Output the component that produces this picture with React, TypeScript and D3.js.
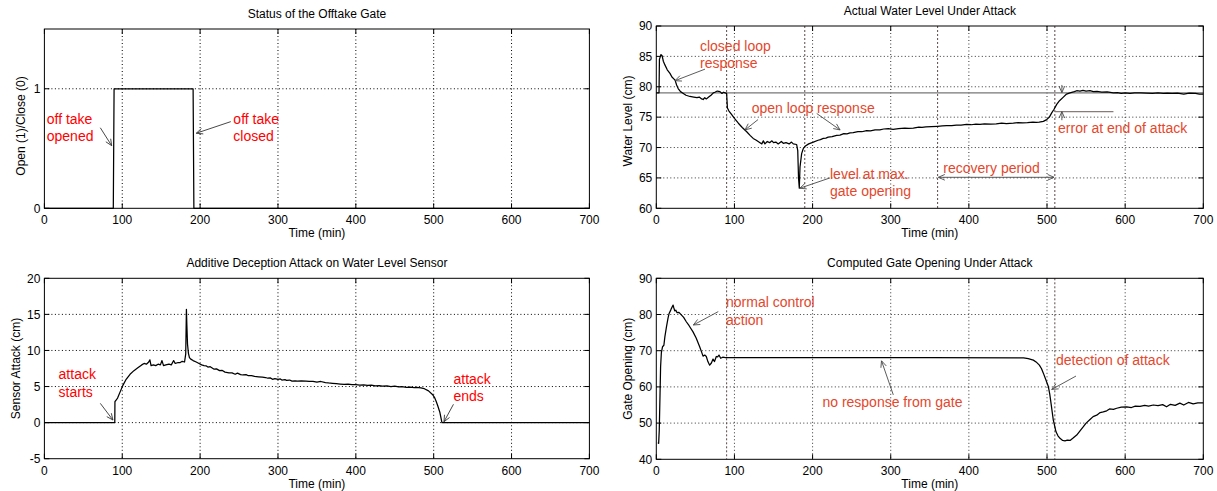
import React from 'react';
import * as d3 from 'd3';

type Pt = [number, number];

// ---------- data ----------
const timeTicks = [0, 100, 200, 300, 400, 500, 600, 700];

const gateStatus: Pt[] = [[0, 0], [88.5, 0], [89.5, 1], [191, 1], [192, 0], [700, 0]];
const gateStatusTicks = [0, 1];

const waterLevel: Pt[] = [
  [0, 79], [3.5, 79], [4, 84.5], [6, 85.3], [7.5, 85.1], [9, 84.2], [11, 83.6], [14, 82.8], [17.5, 82.2],
  [20, 81.6], [24, 81.1], [26, 80.3], [28, 79.7], [31, 79.2], [34.6, 78.9], [38, 78.6], [43, 78.4], [48, 78.3],
  [52, 78.2], [55, 78.3], [58, 78.0], [60, 77.9], [62, 78.2], [64, 78.0], [67, 78.3], [70, 78.6], [73, 79.0],
  [75, 79.1], [78, 79.3], [81.5, 79.2], [84, 78.9], [86, 79.1], [88, 79.0], [90, 78.9], [91, 76.5], [93, 76.0],
  [96.5, 75.4], [100, 74.8], [105, 74.0], [110, 73.3], [115.7, 72.6], [120, 72.0], [124, 71.5], [128, 71.2],
  [132.7, 70.8], [135, 70.6], [137, 71.1], [139, 70.6], [142, 71.0], [145, 70.8], [148, 71.1], [150, 70.8],
  [153, 70.9], [156, 70.6], [160, 71.0], [162.5, 70.7], [166, 70.8], [170, 70.6], [173, 70.9], [175.3, 70.6],
  [179.6, 70.5], [181, 69.5], [182, 65], [183, 63.3], [183.9, 66.8], [186, 69.0], [188, 69.8], [190.3, 70.2],
  [195, 70.6], [201, 70.9], [207, 71.2], [210, 71.3], [213.7, 71.5], [217, 71.55], [220, 71.7], [225, 71.8],
  [230.8, 72.0], [235, 72.05], [240, 72.3], [244, 72.25], [247.9, 72.4], [252, 72.45], [258, 72.6], [263, 72.6],
  [269.2, 72.8], [274, 72.75], [280, 72.9], [286, 72.9], [291, 73.05], [296.9, 73.1], [303, 73.0], [310, 73.1],
  [318, 73.2], [323, 73.15], [328.9, 73.2], [336, 73.35], [340, 73.3], [345, 73.4], [352, 73.45], [360, 73.5],
  [366, 73.55], [371.6, 73.6], [378, 73.6], [384, 73.7], [390, 73.7], [397, 73.8], [403, 73.75], [409, 73.85],
  [414.3, 73.8], [420, 73.9], [428, 73.85], [435, 73.9], [442, 74.0], [448, 73.95], [456.9, 74.0], [463, 74.1],
  [469, 74.05], [475, 74.1], [482, 74.2], [486, 74.15], [490, 74.2],
  [495.3, 74.3], [499.6, 74.6], [503, 75.0], [506, 75.7], [509, 76.3], [512.4, 77.1], [516, 77.7], [520.9, 78.3],
  [525, 78.8], [529.4, 79.0], [535, 79.2], [538, 79.35], [542.2, 79.3], [546, 79.4], [550, 79.3], [555, 79.35],
  [559.3, 79.2], [564, 79.25], [570, 79.1], [577, 79.15], [584.9, 79.0], [590, 79.05], [595, 78.9], [600, 79.0],
  [606.2, 78.9], [612, 79.0], [620, 79.0], [627, 78.95], [635, 78.9], [642, 79.0], [648.8, 78.9], [654, 78.95],
  [660, 78.9], [667, 78.95], [675, 78.8], [682, 78.95], [690, 78.9], [695, 78.8], [700, 78.8],
];
const waterLevelTicks = [60, 65, 70, 75, 80, 85, 90];
const setpoint = 79;
const errorLevel = 75.9;

const sensorAttack: Pt[] = [
  [0, 0], [90.4, 0], [90.6, 2.9], [92, 3.1], [94, 3.4], [97.8, 4.4], [101, 5.2], [105, 6.0], [110, 6.7], [115, 7.2],
  [120, 7.6], [125, 8.0], [128, 8.2], [131, 8.1], [134, 8.4], [135.5, 8.7], [137, 7.9], [140, 8.0], [143, 7.9],
  [146, 8.1], [149, 8.0], [151, 8.6], [153, 7.9], [156, 8.0], [160, 8.1], [163, 8.0], [166, 8.6], [168, 8.2],
  [171, 8.3], [174, 8.3], [177, 8.5], [180, 8.4], [181.5, 9.5], [182.4, 15.7], [183, 13.5], [183.8, 10.9],
  [185, 9.6], [186.3, 9.0], [188, 8.8], [191, 8.6], [195, 8.4], [198.6, 8.2], [202, 8.0], [205, 7.9],
  [208, 7.85], [210, 7.7], [213, 7.75], [218, 7.4], [221, 7.45], [225, 7.2], [228, 7.25], [232, 7.0], [237, 6.9],
  [241, 6.9], [245, 6.7], [248, 6.85], [252, 6.65], [255, 6.6], [259, 6.65], [262, 6.5], [266, 6.5], [270, 6.4],
  [275, 6.35], [280, 6.3], [284, 6.25], [287, 6.15], [290, 6.2], [293, 6.0], [296, 6.1], [300, 6.0], [303, 6.05],
  [305, 5.9], [309, 5.95], [311, 5.85], [315, 5.9], [318, 5.75], [322, 5.8], [325, 5.75], [330, 5.8], [336, 5.75],
  [340, 5.7], [345, 5.72], [350, 5.6], [355, 5.7], [361, 5.55], [365, 5.5], [370, 5.45], [375, 5.4], [380, 5.35],
  [385, 5.3], [390, 5.32], [395, 5.25], [400, 5.25], [405, 5.2], [410, 5.22], [415, 5.15], [420, 5.2], [425, 5.1],
  [430, 5.12], [434, 5.05], [440, 5.1], [445, 5.0], [450, 5.05], [455, 4.95], [459, 5.0], [465, 4.9], [470, 4.92],
  [475, 4.85], [478, 4.9], [483.6, 4.8], [488, 4.7], [493.4, 4.4],
  [498.4, 3.9], [501, 3.5], [503, 3.0], [505, 2.4], [508, 1.4], [510.6, 0], [700, 0],
];
const sensorAttackTicks = [-5, 0, 5, 10, 15, 20];

const gateOpening: Pt[] = [
  [2, 44.6], [3, 44.4], [3.8, 48], [4.7, 57.3], [5.5, 65.6], [6.5, 69.5], [8, 71.1], [9.7, 71.5], [11, 73.9],
  [13, 76.6], [15, 79.0], [16.4, 80.3], [18, 81.0], [19.4, 81.7], [21.5, 82.6], [22.5, 81.8], [23.6, 81.0],
  [25, 81.2], [26.6, 80.5], [29, 80.6], [32, 79.9], [35, 79.2], [38.4, 78.0], [42, 76.9], [47, 75.2], [51, 73.5],
  [55.5, 71.1], [58, 69.6], [59.8, 68.5], [62, 68.8], [64, 68.4], [66, 67.0], [68.3, 66.0], [70.5, 66.6],
  [72.6, 67.7], [74.5, 67.0], [76.8, 68.4], [78.5, 68.3], [80.2, 68.8], [82.4, 67.9], [85, 68.2], [88.5, 68.1],
  [200, 68.1], [350, 68.1], [470, 68.0], [476, 67.8], [482.5, 67.4], [486, 66.9], [490.2, 66.0], [493, 65.0],
  [495.3, 63.8], [498.5, 62.0], [501.7, 60.1], [503.5, 58.0], [505.1, 55.5], [508, 50.9], [511.5, 47.6],
  [514, 46.5], [516.6, 45.8], [520, 45.2], [523, 45.1], [526, 45.3], [529.5, 45.2], [533, 45.8], [538, 46.7],
  [542, 47.8], [546.5, 49.0], [550, 50.0], [555, 51.0], [559, 51.8], [563.6, 52.2], [568, 52.9], [572, 53.1],
  [576.4, 53.4], [580, 53.9], [585, 53.8], [589.2, 54.1], [595, 54.4], [602, 54.5], [608, 54.3], [613, 54.7],
  [619, 54.6], [625, 54.9], [630, 54.7], [636, 55.0], [642, 54.8], [648, 55.1], [653, 54.5], [658, 55.2],
  [664, 54.9], [670, 55.5], [675, 55.0], [681, 55.7], [687, 55.3], [693, 55.6], [700, 55.6],
];
const gateOpeningTicks = [40, 50, 60, 70, 80, 90];

// event markers (min)
const levelEventLines = [90, 190, 360, 510];
const gateEventLines = [90, 510];

// annotations in data coordinates: text lines at (t, v); arrows from -> to
type Note = { t: number; v: number; lines: string[] };
type Arrow = { from: Pt; to: Pt; both?: boolean };

const statusNotes: Note[] = [
  { t: 3, v: 0.75, lines: ['off take', 'opened'] },
  { t: 242.7, v: 0.75, lines: ['off take', 'closed'] },
];
const statusArrows: Arrow[] = [
  { from: [71.8, 0.674], to: [86.4, 0.524] },
  { from: [239.4, 0.725], to: [195.1, 0.628] },
];

const levelNotes: Note[] = [
  { t: 55.9, v: 86.75, lines: ['closed loop', 'response'] },
  { t: 122.1, v: 76.5, lines: ['open loop response'] },
  { t: 222.3, v: 65.65, lines: ['level at max.', 'gate opening'] },
  { t: 367.3, v: 66.6, lines: ['recovery period'] },
  { t: 514.1, v: 73.2, lines: ['error at end of attack'] },
];
const levelArrows: Arrow[] = [
  { from: [62.3, 82.9], to: [23.9, 81.0] },
  { from: [130.2, 74.6], to: [113.5, 72.9] },
  { from: [205.3, 75.6], to: [235.2, 72.9] },
  { from: [222.3, 65.0], to: [183.6, 63.3] },
  { from: [361, 65.1], to: [509, 65.1], both: true },
  { from: [519, 74.5], to: [519, 75.9] },
  { from: [519, 80.3], to: [519, 79.05] },
];

const attackNotes: Note[] = [
  { t: 18.2, v: 6.7, lines: ['attack', 'starts'] },
  { t: 525.4, v: 6.1, lines: ['attack', 'ends'] },
];
const attackArrows: Arrow[] = [
  { from: [71.8, 2.67], to: [88, 0.36] },
  { from: [525.4, 2.54], to: [513.2, 0.12] },
];

const openingNotes: Note[] = [
  { t: 89.2, v: 83.4, lines: ['normal control', 'action'] },
  { t: 212.6, v: 55.9, lines: ['no response from gate'] },
  { t: 511.5, v: 67.4, lines: ['detection of attack'] },
];
const openingArrows: Arrow[] = [
  { from: [79.3, 80.8], to: [47.4, 77.1] },
  { from: [303.3, 57.8], to: [288.2, 67.2] },
  { from: [537.1, 63.0], to: [506, 59.3] },
];

// ---------- drawing ----------
const FONT = 'Liberation Sans, Arial, Helvetica, sans-serif';

type PanelCfg = {
  left: number; right: number; top: number; bottom: number;
  yDomain: [number, number]; yTicks: number[];
  title: string; ylabel: string; ylabelX: number; ylabelY?: number;
  series: Pt[];
  notes: Note[]; arrows: Arrow[];
  noteColor: string; arrowColor: string; gridColor: string;
  eventLines?: number[];
  hLine?: number;
  errLine?: { v: number; t0: number; t1: number };
};

function ArrowMark({ x1, y1, x2, y2, color, both }: any) {
  const head = (xa: number, ya: number, xb: number, yb: number, k: string) => {
    const ang = Math.atan2(yb - ya, xb - xa);
    const L = 7, a = 0.42;
    const p1 = [xb - L * Math.cos(ang - a), yb - L * Math.sin(ang - a)];
    const p2 = [xb - L * Math.cos(ang + a), yb - L * Math.sin(ang + a)];
    return (
      <path key={k} d={`M${p1[0]},${p1[1]}L${xb},${yb}L${p2[0]},${p2[1]}`} fill="none" stroke={color} strokeWidth={0.9} />
    );
  };
  return (
    <g>
      <line x1={x1} y1={y1} x2={x2} y2={y2} stroke={color} strokeWidth={0.9} />
      {head(x1, y1, x2, y2, 'h1')}
      {both ? head(x2, y2, x1, y1, 'h2') : null}
    </g>
  );
}

function Panel({ c }: { c: PanelCfg }) {
  const x = d3.scaleLinear().domain([0, 700]).range([c.left, c.right]);
  const y = d3.scaleLinear().domain(c.yDomain).range([c.bottom, c.top]);
  const line = d3.line<Pt>().x((d) => x(d[0])).y((d) => y(d[1]));
  const cx = (c.left + c.right) / 2;
  const cy = c.ylabelY ?? (c.top + c.bottom) / 2;
  const tick = 5;
  return (
    <g>
      <rect x={c.left} y={c.top} width={c.right - c.left} height={c.bottom - c.top} fill="#fff" />
      {/* grid */}
      {timeTicks.filter((t) => t > 0 && t < 700).map((t) => (
        <line key={'gx' + t} x1={x(t)} x2={x(t)} y1={c.top} y2={c.bottom} stroke={c.gridColor} strokeWidth={1} strokeDasharray="1,2.5" />
      ))}
      {c.yTicks.filter((v) => v > c.yDomain[0] && v < c.yDomain[1]).map((v) => (
        <line key={'gy' + v} x1={c.left} x2={c.right} y1={y(v)} y2={y(v)} stroke={c.gridColor} strokeWidth={1} strokeDasharray="1,2.5" />
      ))}
      {(c.eventLines || []).map((t) => (
        <line key={'ev' + t} x1={x(t)} x2={x(t)} y1={c.top} y2={c.bottom} stroke="#5a4a48" strokeWidth={1} strokeDasharray="2,2" />
      ))}
      {c.hLine !== undefined && (
        <line x1={c.left} x2={c.right} y1={y(c.hLine)} y2={y(c.hLine)} stroke="#777" strokeWidth={1.3} />
      )}
      {c.errLine && (
        <line x1={x(c.errLine.t0)} x2={x(c.errLine.t1)} y1={y(c.errLine.v)} y2={y(c.errLine.v)} stroke="#8a7a78" strokeWidth={1.2} />
      )}
      {/* ticks */}
      {timeTicks.map((t) => (
        <g key={'tx' + t}>
          <line x1={x(t)} x2={x(t)} y1={c.bottom} y2={c.bottom - tick} stroke="#000" />
          <line x1={x(t)} x2={x(t)} y1={c.top} y2={c.top + tick} stroke="#000" />
          <text x={x(t)} y={c.bottom + 16} textAnchor="middle" fontSize={12} fontFamily={FONT} fill="#000">{t}</text>
        </g>
      ))}
      {c.yTicks.map((v) => (
        <g key={'ty' + v}>
          <line x1={c.left} x2={c.left + tick} y1={y(v)} y2={y(v)} stroke="#000" />
          <line x1={c.right} x2={c.right - tick} y1={y(v)} y2={y(v)} stroke="#000" />
          <text x={c.left - 4} y={y(v)} dy="0.35em" textAnchor="end" fontSize={12} fontFamily={FONT} fill="#000">{v}</text>
        </g>
      ))}
      {/* series */}
      <path d={line(c.series) || ''} fill="none" stroke="#000" strokeWidth={1.25} strokeLinejoin="round" />
      {/* frame */}
      <rect x={c.left} y={c.top} width={c.right - c.left} height={c.bottom - c.top} fill="none" stroke="#000" strokeWidth={1} />
      {/* labels */}
      <text x={cx} y={c.top - 11} textAnchor="middle" fontSize={12} fontFamily={FONT} fill="#000">{c.title}</text>
      <text x={cx} y={c.bottom + 29} textAnchor="middle" fontSize={12} fontFamily={FONT} fill="#000">Time (min)</text>
      <text transform={`translate(${c.ylabelX},${cy}) rotate(-90)`} dy="0.35em" textAnchor="middle" fontSize={12} fontFamily={FONT} fill="#000">{c.ylabel}</text>
      {/* annotations */}
      {c.arrows.map((a, i) => (
        <ArrowMark key={'a' + i} x1={x(a.from[0])} y1={y(a.from[1])} x2={x(a.to[0])} y2={y(a.to[1])} color={c.arrowColor} both={a.both} />
      ))}
      {c.notes.map((n, i) => (
        <text key={'n' + i} x={x(n.t)} y={y(n.v)} fontSize={14} fontFamily={FONT} fill={c.noteColor}>
          {n.lines.map((s, j) => (
            <tspan key={j} x={x(n.t)} dy={j === 0 ? '0.35em' : 17.5}>{s}</tspan>
          ))}
        </text>
      ))}
    </g>
  );
}

const LEFT_RED = '#ff0000';
const RIGHT_RED = '#e4472c';

export default function App() {
  const panels: PanelCfg[] = [
    {
      left: 44.4, right: 589.4, top: 29, bottom: 208.3, yDomain: [0, 1.5], yTicks: gateStatusTicks,
      title: 'Status of the Offtake Gate', ylabel: 'Open (1)/Close (0)', ylabelX: 21, ylabelY: 126,
      series: gateStatus, notes: statusNotes, arrows: statusArrows,
      noteColor: LEFT_RED, arrowColor: '#333', gridColor: '#000',
    },
    {
      left: 656.3, right: 1203.3, top: 26, bottom: 208.3, yDomain: [60, 90], yTicks: waterLevelTicks,
      title: 'Actual Water Level Under Attack', ylabel: 'Water Level (cm)', ylabelX: 627.5, ylabelY: 121,
      series: waterLevel, notes: levelNotes, arrows: levelArrows,
      noteColor: RIGHT_RED, arrowColor: '#4a4a4a', gridColor: '#333',
      eventLines: levelEventLines, hLine: setpoint, errLine: { v: errorLevel, t0: 510, t1: 585 },
    },
    {
      left: 44.4, right: 589.4, top: 278.3, bottom: 458.7, yDomain: [-5, 20], yTicks: sensorAttackTicks,
      title: 'Additive Deception Attack on Water Level Sensor', ylabel: 'Sensor Attack (cm)', ylabelX: 15.3,
      series: sensorAttack, notes: attackNotes, arrows: attackArrows,
      noteColor: LEFT_RED, arrowColor: '#333', gridColor: '#000',
    },
    {
      left: 656.3, right: 1203.3, top: 278.3, bottom: 459.3, yDomain: [40, 90], yTicks: gateOpeningTicks,
      title: 'Computed Gate Opening Under Attack', ylabel: 'Gate Opening (cm)', ylabelX: 627.5,
      series: gateOpening, notes: openingNotes, arrows: openingArrows,
      noteColor: RIGHT_RED, arrowColor: '#4a4a4a', gridColor: '#333',
      eventLines: gateEventLines,
    },
  ];
  return (
    <svg width={1217} height={491} style={{ position: 'absolute', left: 0, top: 0, background: '#fff' }}>
      <rect x={0} y={0} width={1217} height={491} fill="#fff" />
      {panels.map((p, i) => <Panel key={i} c={p} />)}
    </svg>
  );
}
